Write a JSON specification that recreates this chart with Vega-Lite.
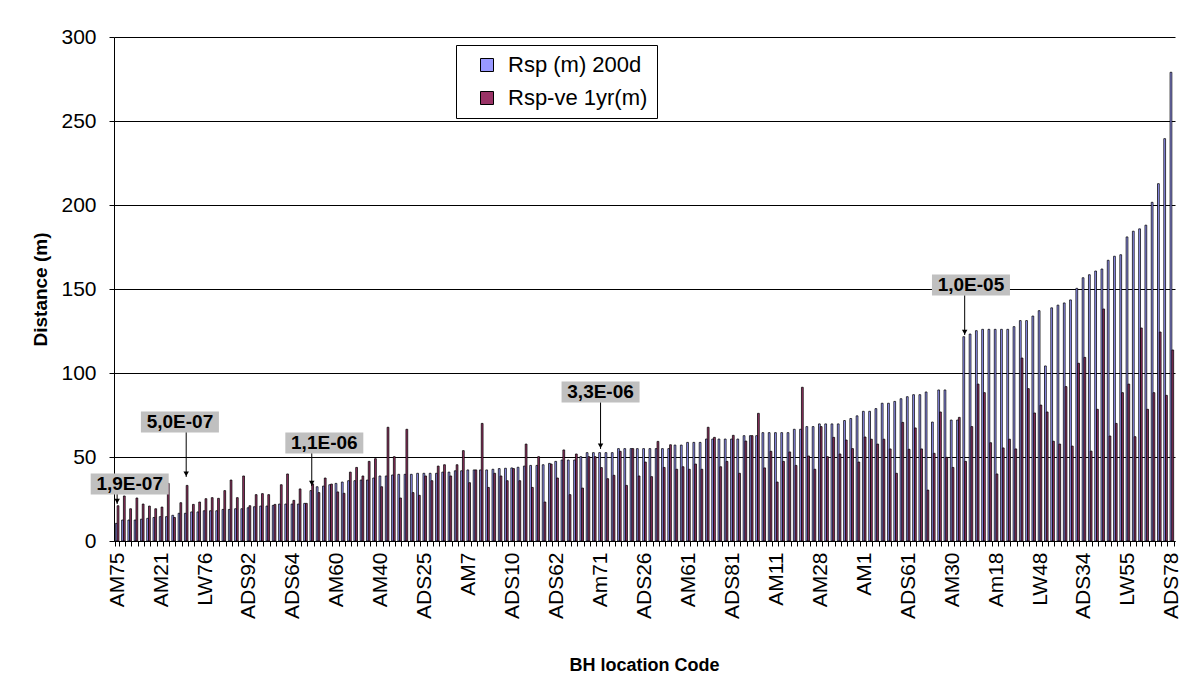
{
  "$schema": "https://vega.github.io/schema/vega-lite/v6.json",
  "width": 1061,
  "height": 504,
  "autosize": {"type": "none"},
  "padding": {"left": 114, "top": 37, "right": 28, "bottom": 154},
  "background": "white",
  "config": {
    "font": "Liberation Sans",
    "view": {"stroke": null},
    "axis": {"labelFont": "Liberation Sans", "titleFont": "Liberation Sans", "labelColor": "black", "titleColor": "black", "domainColor": "black", "tickColor": "black", "gridColor": "black"}
  },
  "datasets": {
    "bh": [
      {"n":1,"rsp200d":10.5,"rspve1yr":21},{"n":2,"rsp200d":12.5,"rspve1yr":26.8},{"n":3,"rsp200d":12.5,"rspve1yr":19.2},{"n":4,"rsp200d":12.5,"rspve1yr":25.6},{"n":5,"rsp200d":13,"rspve1yr":22},
      {"n":6,"rsp200d":13.5,"rspve1yr":20.8},{"n":7,"rsp200d":14,"rspve1yr":19.2},{"n":8,"rsp200d":14.5,"rspve1yr":20.2},{"n":9,"rsp200d":14.5,"rspve1yr":34.3},{"n":10,"rsp200d":15.3,"rspve1yr":14},
      {"n":11,"rsp200d":16.5,"rspve1yr":22.8},{"n":12,"rsp200d":16.5,"rspve1yr":33.1},{"n":13,"rsp200d":17.3,"rspve1yr":21.8},{"n":14,"rsp200d":17.3,"rspve1yr":23.2},{"n":15,"rsp200d":18,"rspve1yr":25.2},
      {"n":16,"rsp200d":18,"rspve1yr":25.8},{"n":17,"rsp200d":18,"rspve1yr":25.4},{"n":18,"rsp200d":18.8,"rspve1yr":30},{"n":19,"rsp200d":18.8,"rspve1yr":36.3},{"n":20,"rsp200d":19.2,"rspve1yr":25.8},
      {"n":21,"rsp200d":19.2,"rspve1yr":38.7},{"n":22,"rsp200d":19.8,"rspve1yr":21},{"n":23,"rsp200d":20.4,"rspve1yr":27.6},{"n":24,"rsp200d":20.8,"rspve1yr":28.2},{"n":25,"rsp200d":20.8,"rspve1yr":27.6},
      {"n":26,"rsp200d":21.2,"rspve1yr":21.8},{"n":27,"rsp200d":22,"rspve1yr":33.5},{"n":28,"rsp200d":22,"rspve1yr":39.9},{"n":29,"rsp200d":22,"rspve1yr":24.2},{"n":30,"rsp200d":22,"rspve1yr":31},
      {"n":31,"rsp200d":22.4,"rspve1yr":22.4},{"n":32,"rsp200d":30,"rspve1yr":34},{"n":33,"rsp200d":32.3,"rspve1yr":28.8},{"n":34,"rsp200d":32.7,"rspve1yr":37.5},{"n":35,"rsp200d":33.5,"rspve1yr":33.9},
      {"n":36,"rsp200d":34.3,"rspve1yr":29.2},{"n":37,"rsp200d":35.1,"rspve1yr":28.4},{"n":38,"rsp200d":35.9,"rspve1yr":41},{"n":39,"rsp200d":35.9,"rspve1yr":43.8},{"n":40,"rsp200d":36.3,"rspve1yr":38.7},
      {"n":41,"rsp200d":36.3,"rspve1yr":47.4},{"n":42,"rsp200d":37.5,"rspve1yr":49},{"n":43,"rsp200d":38.7,"rspve1yr":32.3},{"n":44,"rsp200d":38.7,"rspve1yr":67.7},{"n":45,"rsp200d":39.3,"rspve1yr":50.2},
      {"n":46,"rsp200d":39.7,"rspve1yr":25.6},{"n":47,"rsp200d":39.7,"rspve1yr":66.5},{"n":48,"rsp200d":39.7,"rspve1yr":28.8},{"n":49,"rsp200d":40.3,"rspve1yr":27.2},{"n":50,"rsp200d":40.3,"rspve1yr":38.7},
      {"n":51,"rsp200d":40.3,"rspve1yr":35.9},{"n":52,"rsp200d":40.3,"rspve1yr":44.6},{"n":53,"rsp200d":41,"rspve1yr":45.4},{"n":54,"rsp200d":41,"rspve1yr":38.7},{"n":55,"rsp200d":41.8,"rspve1yr":45.4},
      {"n":56,"rsp200d":41.8,"rspve1yr":53.8},{"n":57,"rsp200d":42.3,"rspve1yr":34.7},{"n":58,"rsp200d":42.3,"rspve1yr":42.3},{"n":59,"rsp200d":42.3,"rspve1yr":70},{"n":60,"rsp200d":42.3,"rspve1yr":31.9},
      {"n":61,"rsp200d":42.7,"rspve1yr":40.3},{"n":62,"rsp200d":43.1,"rspve1yr":38.7},{"n":63,"rsp200d":43.3,"rspve1yr":35.9},{"n":64,"rsp200d":43.5,"rspve1yr":43.1},{"n":65,"rsp200d":43.9,"rspve1yr":35.9},
      {"n":66,"rsp200d":44.6,"rspve1yr":57.7},{"n":67,"rsp200d":45,"rspve1yr":31.9},{"n":68,"rsp200d":45,"rspve1yr":50.2},{"n":69,"rsp200d":45.4,"rspve1yr":23.2},{"n":70,"rsp200d":46.2,"rspve1yr":45.8},
      {"n":71,"rsp200d":47.4,"rspve1yr":37.5},{"n":72,"rsp200d":48.2,"rspve1yr":54.2},{"n":73,"rsp200d":48.2,"rspve1yr":27.6},{"n":74,"rsp200d":48.2,"rspve1yr":51.8},{"n":75,"rsp200d":50.2,"rspve1yr":31.5},
      {"n":76,"rsp200d":52.6,"rspve1yr":50.2},{"n":77,"rsp200d":52.6,"rspve1yr":50.2},{"n":78,"rsp200d":52.6,"rspve1yr":43.7},{"n":79,"rsp200d":52.6,"rspve1yr":37.1},{"n":80,"rsp200d":52.6,"rspve1yr":39.1},
      {"n":81,"rsp200d":55,"rspve1yr":53.4},{"n":82,"rsp200d":55,"rspve1yr":33.1},{"n":83,"rsp200d":55,"rspve1yr":55},{"n":84,"rsp200d":55,"rspve1yr":38.7},{"n":85,"rsp200d":55,"rspve1yr":47},
      {"n":86,"rsp200d":55,"rspve1yr":38.3},{"n":87,"rsp200d":55,"rspve1yr":59.3},{"n":88,"rsp200d":55,"rspve1yr":43.8},{"n":89,"rsp200d":55,"rspve1yr":57.3},{"n":90,"rsp200d":57.1,"rspve1yr":42.7},
      {"n":91,"rsp200d":57.1,"rspve1yr":44.2},{"n":92,"rsp200d":58.7,"rspve1yr":42.7},{"n":93,"rsp200d":58.7,"rspve1yr":45.8},{"n":94,"rsp200d":58.7,"rspve1yr":42.7},{"n":95,"rsp200d":60.7,"rspve1yr":67.7},
      {"n":96,"rsp200d":60.7,"rspve1yr":61.7},{"n":97,"rsp200d":60.7,"rspve1yr":44.2},{"n":98,"rsp200d":60.7,"rspve1yr":47.4},{"n":99,"rsp200d":60.7,"rspve1yr":62.9},{"n":100,"rsp200d":60.7,"rspve1yr":40.3},
      {"n":101,"rsp200d":62.7,"rspve1yr":59.5},{"n":102,"rsp200d":62.7,"rspve1yr":62.7},{"n":103,"rsp200d":62.7,"rspve1yr":76},{"n":104,"rsp200d":64.5,"rspve1yr":43.5},{"n":105,"rsp200d":64.5,"rspve1yr":53.4},
      {"n":106,"rsp200d":64.5,"rspve1yr":35.1},{"n":107,"rsp200d":64.5,"rspve1yr":47.4},{"n":108,"rsp200d":64.5,"rspve1yr":53},{"n":109,"rsp200d":66.5,"rspve1yr":45},{"n":110,"rsp200d":66.5,"rspve1yr":91.5},
      {"n":111,"rsp200d":68.1,"rspve1yr":50.6},{"n":112,"rsp200d":68.1,"rspve1yr":42.7},{"n":113,"rsp200d":69.7,"rspve1yr":68.1},{"n":114,"rsp200d":69.7,"rspve1yr":50.2},{"n":115,"rsp200d":69.7,"rspve1yr":61.7},
      {"n":116,"rsp200d":69.7,"rspve1yr":51.8},{"n":117,"rsp200d":71.7,"rspve1yr":60.1},{"n":118,"rsp200d":72.9,"rspve1yr":55},{"n":119,"rsp200d":74.5,"rspve1yr":47},{"n":120,"rsp200d":77.2,"rspve1yr":61.9},
      {"n":121,"rsp200d":77.2,"rspve1yr":60.6},{"n":122,"rsp200d":78.8,"rspve1yr":57.7},{"n":123,"rsp200d":82,"rspve1yr":60.6},{"n":124,"rsp200d":82,"rspve1yr":54.8},{"n":125,"rsp200d":83.1,"rspve1yr":40.3},
      {"n":126,"rsp200d":84.7,"rspve1yr":70.6},{"n":127,"rsp200d":85.9,"rspve1yr":54.6},{"n":128,"rsp200d":87.1,"rspve1yr":67.3},{"n":129,"rsp200d":87.1,"rspve1yr":54.8},{"n":130,"rsp200d":88.7,"rspve1yr":30.3},
      {"n":131,"rsp200d":70.8,"rspve1yr":52.2},{"n":132,"rsp200d":89.9,"rspve1yr":76.8},{"n":133,"rsp200d":89.9,"rspve1yr":49.8},{"n":134,"rsp200d":72,"rspve1yr":43.8},{"n":135,"rsp200d":72,"rspve1yr":73.6},
      {"n":136,"rsp200d":121.6,"rspve1yr":47.4},{"n":137,"rsp200d":123.2,"rspve1yr":68.1},{"n":138,"rsp200d":125.2,"rspve1yr":93.4},{"n":139,"rsp200d":126,"rspve1yr":88.3},{"n":140,"rsp200d":126,"rspve1yr":58.5},
      {"n":141,"rsp200d":126,"rspve1yr":39.9},{"n":142,"rsp200d":126,"rspve1yr":55.4},{"n":143,"rsp200d":126,"rspve1yr":60.6},{"n":144,"rsp200d":127.6,"rspve1yr":54.8},{"n":145,"rsp200d":131.2,"rspve1yr":108.9},
      {"n":146,"rsp200d":131.2,"rspve1yr":90.7},{"n":147,"rsp200d":133.9,"rspve1yr":76.2},{"n":148,"rsp200d":137.1,"rspve1yr":80.9},{"n":149,"rsp200d":104.2,"rspve1yr":76.8},{"n":150,"rsp200d":138.8,"rspve1yr":59.4},
      {"n":151,"rsp200d":140.4,"rspve1yr":57.7},{"n":152,"rsp200d":141.7,"rspve1yr":91.9},{"n":153,"rsp200d":143.5,"rspve1yr":56.5},{"n":154,"rsp200d":150.4,"rspve1yr":105.8},{"n":155,"rsp200d":156.7,"rspve1yr":109.3},
      {"n":156,"rsp200d":158.5,"rspve1yr":53.5},{"n":157,"rsp200d":160.7,"rspve1yr":78.4},{"n":158,"rsp200d":161.9,"rspve1yr":138.1},{"n":159,"rsp200d":167.1,"rspve1yr":62.5},{"n":160,"rsp200d":169.5,"rspve1yr":70},
      {"n":161,"rsp200d":170.4,"rspve1yr":88.3},{"n":162,"rsp200d":181,"rspve1yr":93.4},{"n":163,"rsp200d":184.4,"rspve1yr":62.1},{"n":164,"rsp200d":185.8,"rspve1yr":126.8},{"n":165,"rsp200d":188,"rspve1yr":78.4},
      {"n":166,"rsp200d":201.6,"rspve1yr":88.3},{"n":167,"rsp200d":212.7,"rspve1yr":124.4},{"n":168,"rsp200d":239.5,"rspve1yr":86.7},{"n":169,"rsp200d":279,"rspve1yr":113.7}
    ],
    "notes": [
      {"label":"1,9E-07","bx":3,"by":33.9,"ax":1,"top":27.7,"tip":22,"head":23.8},
      {"label":"5,0E-07","bx":11,"by":70.8,"ax":12,"top":64.6,"tip":38.1,"head":39.9},
      {"label":"1,1E-06","bx":34,"by":58.3,"ax":32,"top":52.1,"tip":32.7,"head":34.5},
      {"label":"3,3E-06","bx":78,"by":88.7,"ax":78,"top":82.4,"tip":54.8,"head":56.6},
      {"label":"1,0E-05","bx":137,"by":152.4,"ax":136,"top":146.1,"tip":122.6,"head":124.4}
    ]
  },
  "layer": [
    {
      "data": {"name": "bh"},
      "transform": [{"fold": ["rsp200d", "rspve1yr"], "as": ["series", "value"]}],
      "mark": {"type": "bar", "stroke": "black", "strokeWidth": 0.75},
      "encoding": {
        "x": {
          "field": "n", "type": "ordinal",
          "scale": {"domain": [1,2,3,4,5,6,7,8,9,10,11,12,13,14,15,16,17,18,19,20,21,22,23,24,25,26,27,28,29,30,31,32,33,34,35,36,37,38,39,40,41,42,43,44,45,46,47,48,49,50,51,52,53,54,55,56,57,58,59,60,61,62,63,64,65,66,67,68,69,70,71,72,73,74,75,76,77,78,79,80,81,82,83,84,85,86,87,88,89,90,91,92,93,94,95,96,97,98,99,100,101,102,103,104,105,106,107,108,109,110,111,112,113,114,115,116,117,118,119,120,121,122,123,124,125,126,127,128,129,130,131,132,133,134,135,136,137,138,139,140,141,142,143,144,145,146,147,148,149,150,151,152,153,154,155,156,157,158,159,160,161,162,163,164,165,166,167,168,169], "paddingInner": 0.43, "paddingOuter": 0.215},
          "axis": {
            "title": "BH location Code",
            "titleFontSize": 18, "titleFontWeight": "bold",
            "titleX": 530, "titleY": 124, "titleBaseline": "middle", "titleAlign": "center",
            "labelAngle": 270, "labelFontSize": 21, "labelPadding": 6,
            "labelOverlap": false, "labelBound": false,
            "labelExpr": "(datum.value - 1) % 7 == 0 ? ['AM75','AM21','LW76','ADS92','ADS64','AM60','AM40','ADS25','AM7','ADS10','ADS62','Am71','ADS26','AM61','ADS81','AM11','AM28','AM1','ADS61','AM30','Am18','LW48','ADS34','LW55','ADS78'][(datum.value - 1) / 7] : ''",
            "tickBand": "extent", "tickSize": 5, "tickWidth": 1, "domainWidth": 1, "grid": false
          }
        },
        "xOffset": {"field": "series", "type": "nominal", "sort": ["rsp200d", "rspve1yr"]},
        "y": {
          "field": "value", "type": "quantitative",
          "scale": {"domain": [0, 300], "nice": false},
          "axis": {
            "title": "Distance (m)", "titleFontSize": 19, "titleFontWeight": "bold",
            "titleX": -74, "titleY": 252, "titleBaseline": "middle", "titleAlign": "center", "titleAngle": 270,
            "values": [0, 50, 100, 150, 200, 250, 300],
            "labelFontSize": 21, "labelPadding": 13, "tickSize": 5, "tickWidth": 1,
            "grid": true, "gridWidth": 1, "domainWidth": 1
          }
        },
        "color": {
          "field": "series", "type": "nominal",
          "scale": {"domain": ["rsp200d", "rspve1yr"], "range": ["#9999FF", "#993366"]},
          "legend": {
            "title": null, "orient": "none", "legendX": 342, "legendY": 8,
            "direction": "vertical",
            "fillColor": "white", "strokeColor": "black", "padding": 9,
            "symbolType": "square", "symbolSize": 169, "symbolStrokeColor": "black", "symbolStrokeWidth": 1,
            "symbolOffset": 11,
            "labelFontSize": 22, "labelFont": "Liberation Sans", "labelColor": "black", "labelOffset": 10,
            "rowPadding": 11,
            "labelExpr": "datum.value == 'rsp200d' ? 'Rsp (m) 200d' : 'Rsp-ve 1yr(m)'"
          }
        }
      }
    },
    {
      "data": {"name": "notes"},
      "mark": {"type": "point", "shape": "M-1,-0.269L1,-0.269L1,0.269L-1,0.269Z", "size": 6084, "filled": true, "fill": "#C0C0C0", "opacity": 1, "strokeWidth": 0},
      "encoding": {
        "x": {"field": "bx", "type": "ordinal"},
        "y": {"field": "by", "type": "quantitative"}
      }
    },
    {
      "data": {"name": "notes"},
      "mark": {"type": "text", "fontSize": 19, "fontWeight": "bold", "font": "Liberation Sans", "color": "black", "align": "center", "baseline": "middle"},
      "encoding": {
        "x": {"field": "bx", "type": "ordinal"},
        "y": {"field": "by", "type": "quantitative"},
        "text": {"field": "label"}
      }
    },
    {
      "data": {"name": "notes"},
      "mark": {"type": "rule", "color": "black", "strokeWidth": 1},
      "encoding": {
        "x": {"field": "ax", "type": "ordinal"},
        "y": {"field": "top", "type": "quantitative"},
        "y2": {"field": "tip"}
      }
    },
    {
      "data": {"name": "notes"},
      "mark": {"type": "point", "shape": "triangle-down", "size": 30, "filled": true, "fill": "black", "opacity": 1, "strokeWidth": 0},
      "encoding": {
        "x": {"field": "ax", "type": "ordinal"},
        "y": {"field": "head", "type": "quantitative"}
      }
    }
  ]
}
